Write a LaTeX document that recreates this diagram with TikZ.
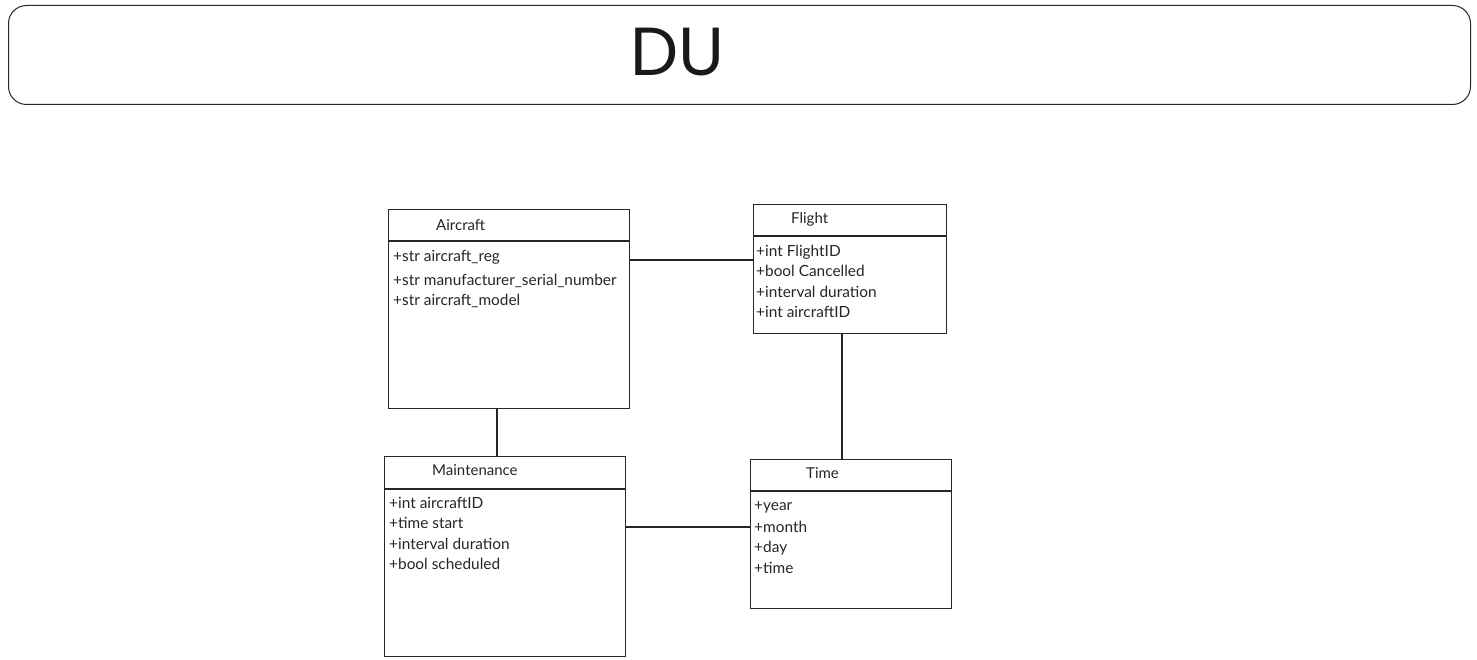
\documentclass[tikz,border=0pt]{standalone}
\usepackage{fontspec}
\setmainfont{Lato}
\newfontfamily\titlefont{Poppins}
\begin{document}
\begin{tikzpicture}[x=1pt,y=-1pt,
  umlbox/.style={draw=black!85, line width=1.4pt, anchor=north west, inner sep=0pt, fill=white},
  divider/.style={draw=black!85, line width=1.4pt},
  conn/.style={draw=black!85, line width=1.2pt},
  boxtitle/.style={anchor=west, inner sep=0pt, font=\fontsize{15}{17}\selectfont, text=black!85},
  attr/.style={anchor=west, inner sep=0pt, font=\fontsize{15.4}{17}\selectfont, text=black!85}]
\useasboundingbox[fill=white] (0,0) rectangle (1477,660);

% header
\node[draw=black!85, line width=1pt, rounded corners=18pt, minimum width=1462pt, minimum height=99pt, anchor=north west, inner sep=0pt] (hdr) at (8,5) {};
\node[inner sep=0pt, text=black!90] (du) at (677,52) {\titlefont\fontsize{68}{78}\selectfont DU};

% Aircraft
\node[umlbox, minimum width=241pt, minimum height=199pt] (air) at (388,209) {};
\draw[divider] ([yshift=-32pt]air.north west) -- ([yshift=-32pt]air.north east);
\node[boxtitle] (airt) at (436,225) {Aircraft};
\node[attr] (a1) at (393,257) {+str aircraft\_reg};
\node[attr] (a2) at (393,281) {+str manufacturer\_serial\_number};
\node[attr] (a3) at (393,301) {+str aircraft\_model};

% Flight
\node[umlbox, minimum width=193pt, minimum height=129pt] (fl) at (753,204) {};
\draw[divider] ([yshift=-32pt]fl.north west) -- ([yshift=-32pt]fl.north east);
\node[boxtitle] (flt) at (791,219) {Flight};
\node[attr] (f1) at (756,252) {+int FlightID};
\node[attr] (f2) at (756,271) {+bool Cancelled};
\node[attr] (f3) at (756,292) {+interval duration};
\node[attr] (f4) at (756,312) {+int aircraftID};

% Maintenance
\node[umlbox, minimum width=241pt, minimum height=200pt] (mt) at (384,456) {};
\draw[divider] ([yshift=-33pt]mt.north west) -- ([yshift=-33pt]mt.north east);
\node[boxtitle] (mtt) at (432,470) {Maintenance};
\node[attr] (m1) at (389,503) {+int aircraftID};
\node[attr] (m2) at (389,523) {+time start};
\node[attr] (m3) at (389,544) {+interval duration};
\node[attr] (m4) at (389,564) {+bool scheduled};

% Time
\node[umlbox, minimum width=201pt, minimum height=149pt] (tm) at (750,459) {};
\draw[divider] ([yshift=-32pt]tm.north west) -- ([yshift=-32pt]tm.north east);
\node[boxtitle] (tmt) at (806,473) {Time};
\node[attr] (t1) at (754,507) {+year};
\node[attr] (t2) at (754,527) {+month};
\node[attr] (t3) at (754,548) {+day};
\node[attr] (t4) at (754,568) {+time};

% connectors
\draw[conn] (air.east |- 0,260) -- (fl.west |- 0,260);
\draw[conn] (air.south -| 497,0) -- (mt.north -| 497,0);
\draw[conn] (fl.south -| 842,0) -- (tm.north -| 842,0);
\draw[conn] (mt.east |- 0,527) -- (tm.west |- 0,527);
\end{tikzpicture}
\end{document}
